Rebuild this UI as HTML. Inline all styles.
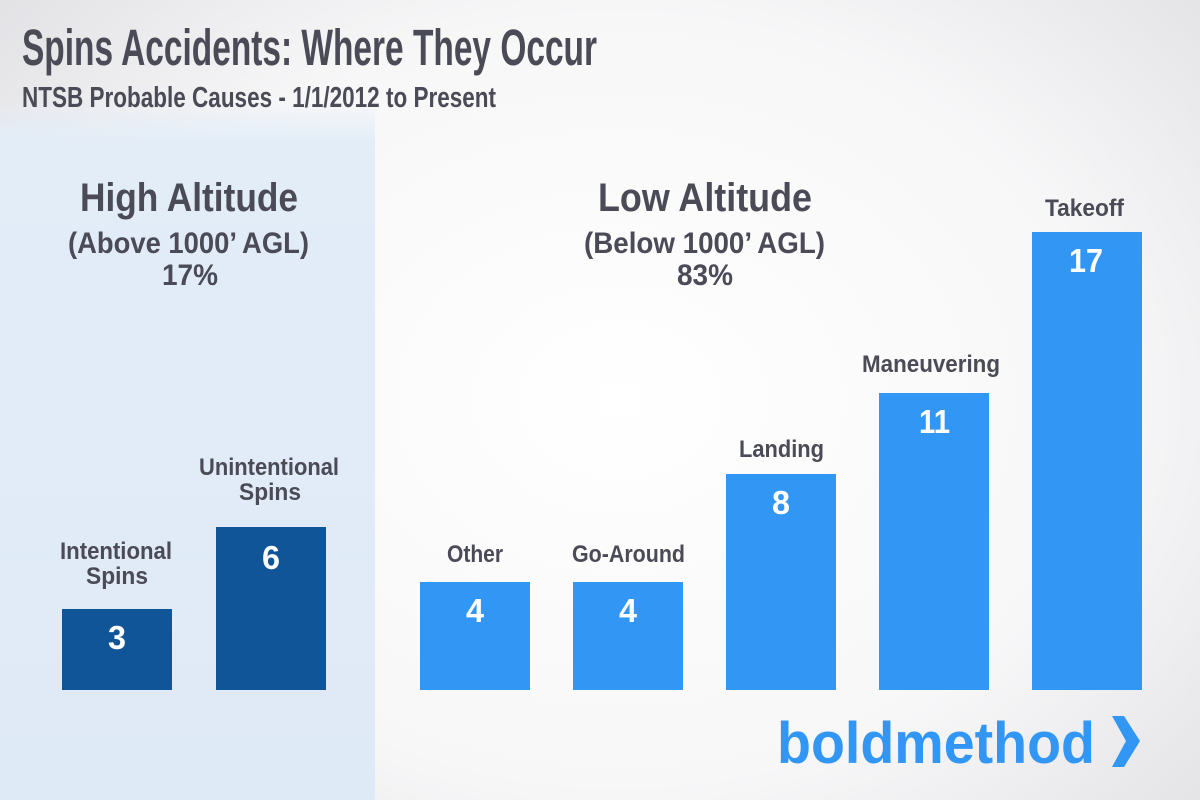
<!DOCTYPE html>
<html><head><meta charset="utf-8"><style>
html,body{margin:0;padding:0;width:1200px;height:800px;overflow:hidden}
body{background:radial-gradient(ellipse 900px 700px at 620px 400px,#ffffff 0%,#f7f7f8 55%,#dcdce0 100%)}
svg{position:absolute;left:0;top:0}
text{font-family:"Liberation Sans Narrow","Liberation Sans",sans-serif;font-weight:bold}
</style></head><body>
<svg width="1200" height="800" viewBox="0 0 1200 800">
<defs>
<linearGradient id="lp" x1="0" y1="0" x2="0" y2="1">
<stop offset="0" stop-color="#e3edf8" stop-opacity="0"/>
<stop offset="0.06" stop-color="#e3edf8" stop-opacity="1"/>
<stop offset="1" stop-color="#dfeaf7"/>
</linearGradient>
</defs>
<rect x="0" y="100" width="375" height="700" fill="url(#lp)"/>
<g fill="#4b4b57">
<text x="22" y="65" font-size="51" textLength="575" lengthAdjust="spacingAndGlyphs">Spins Accidents: Where They Occur</text>
<text x="22" y="107" font-size="29" textLength="474" lengthAdjust="spacingAndGlyphs">NTSB Probable Causes - 1/1/2012 to Present</text>
<text x="80" y="211" font-size="40" textLength="218" lengthAdjust="spacingAndGlyphs">High Altitude</text>
<text x="68" y="253" font-size="30" textLength="241" lengthAdjust="spacingAndGlyphs">(Above 1000’ AGL)</text>
<text x="162" y="285" font-size="30" textLength="56" lengthAdjust="spacingAndGlyphs">17%</text>
<text x="598" y="211" font-size="40" textLength="214" lengthAdjust="spacingAndGlyphs">Low Altitude</text>
<text x="584" y="253" font-size="30" textLength="241" lengthAdjust="spacingAndGlyphs">(Below 1000’ AGL)</text>
<text x="677" y="285" font-size="30" textLength="56" lengthAdjust="spacingAndGlyphs">83%</text>
<g font-size="24">
<text x="60" y="559" textLength="112" lengthAdjust="spacingAndGlyphs">Intentional</text>
<text x="86" y="584" textLength="62" lengthAdjust="spacingAndGlyphs">Spins</text>
<text x="199" y="475" textLength="140" lengthAdjust="spacingAndGlyphs">Unintentional</text>
<text x="239" y="500" textLength="62" lengthAdjust="spacingAndGlyphs">Spins</text>
<text x="447" y="562" textLength="56" lengthAdjust="spacingAndGlyphs">Other</text>
<text x="572" y="562" textLength="113" lengthAdjust="spacingAndGlyphs">Go-Around</text>
<text x="739" y="457" textLength="85" lengthAdjust="spacingAndGlyphs">Landing</text>
<text x="862" y="372" textLength="138" lengthAdjust="spacingAndGlyphs">Maneuvering</text>
<text x="1045" y="216" textLength="79" lengthAdjust="spacingAndGlyphs">Takeoff</text>
</g>
</g>
<rect x="62" y="609" width="110" height="81" fill="#0f5597"/>
<rect x="216" y="527" width="110" height="163" fill="#0f5597"/>
<rect x="420" y="582" width="110" height="108" fill="#3296f5"/>
<rect x="573" y="582" width="110" height="108" fill="#3296f5"/>
<rect x="726" y="474" width="110" height="216" fill="#3296f5"/>
<rect x="879" y="393" width="110" height="297" fill="#3296f5"/>
<rect x="1032" y="232" width="110" height="458" fill="#3296f5"/>
<g fill="#fff" font-size="33">
<text x="108" y="649" textLength="18" lengthAdjust="spacingAndGlyphs">3</text>
<text x="262" y="569" textLength="18" lengthAdjust="spacingAndGlyphs">6</text>
<text x="466" y="622" textLength="18" lengthAdjust="spacingAndGlyphs">4</text>
<text x="619" y="622" textLength="18" lengthAdjust="spacingAndGlyphs">4</text>
<text x="772" y="514" textLength="18" lengthAdjust="spacingAndGlyphs">8</text>
<text x="919" y="433" textLength="31" lengthAdjust="spacingAndGlyphs">11</text>
<text x="1069" y="272" textLength="34" lengthAdjust="spacingAndGlyphs">17</text>
</g>
<text x="777" y="763" font-size="58" fill="#3296f5" textLength="318" lengthAdjust="spacingAndGlyphs" style="font-family:'Liberation Sans',sans-serif">boldmethod</text>
<polygon points="1112,716 1124,716 1140,741 1124,767 1112,767 1126,741" fill="#3296f5"/>
</svg>
</body></html>
